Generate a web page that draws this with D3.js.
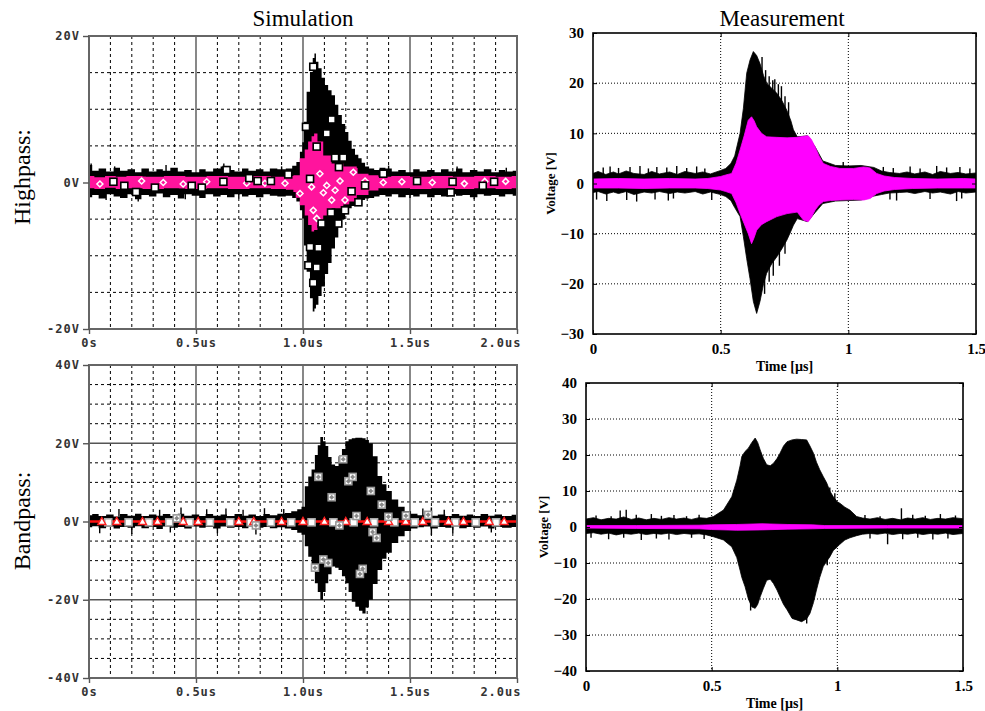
<!DOCTYPE html>
<html>
<head>
<meta charset="utf-8">
<script src="https://cdn.jsdelivr.net/npm/d3@7"></script>
<style>
  body { margin: 0; background: #fff; }
  svg { display: block; }
</style>
</head>
<body>
<div id="chart"></div>
<script>
// ---- data: rows are [time (us), upper envelope (V), lower envelope (V)] ----

// Simulation, highpass
const simHpBlack = [
  [0, 2.4, -2.0], [0.03, 1.6, -1.7], [0.06, 1.9, -2.2], [0.1, 1.5, -1.6], [0.13, 2.0, -1.9],
  [0.16, 1.6, -2.1], [0.2, 1.8, -1.6], [0.23, 1.4, -2.3], [0.26, 1.9, -1.7], [0.3, 1.5, -1.9],
  [0.33, 1.8, -1.5], [0.36, 1.6, -2.0], [0.4, 2.0, -1.7], [0.43, 1.5, -2.2], [0.46, 1.7, -1.6],
  [0.5, 1.4, -1.8], [0.53, 1.8, -2.1], [0.56, 1.5, -1.6], [0.6, 1.9, -1.9], [0.63, 2.2, -1.7],
  [0.66, 1.7, -2.0], [0.7, 1.5, -1.6], [0.73, 1.9, -1.9], [0.76, 1.6, -1.7], [0.8, 1.8, -2.0],
  [0.83, 1.5, -1.6], [0.86, 1.9, -1.8], [0.9, 1.8, -1.9], [0.939, 1.9, -1.8], [0.96, 2.3, -2.1],
  [0.978, 2.8, -2.6], [0.993, 4.2, -3.8], [1.0, 5.5, -4.9], [1.009, 8.3, -8.6], [1.025, 12.4, -12.2],
  [1.04, 15.1, -15.8], [1.051, 17.0, -17.6], [1.056, 17.6, -17.2], [1.065, 16.5, -16.7], [1.079, 15.6, -15.5],
  [1.095, 14.3, -14.2], [1.11, 13.3, -12.5], [1.125, 12.6, -11.0], [1.142, 11.9, -9.0], [1.157, 10.6, -7.5],
  [1.173, 9.2, -6.0], [1.19, 8.0, -5.0], [1.204, 6.9, -4.0], [1.22, 5.7, -3.5], [1.235, 4.6, -3.2],
  [1.251, 3.8, -2.9], [1.266, 3.3, -2.6], [1.282, 2.7, -2.4], [1.298, 2.2, -2.2], [1.32, 1.9, -2.1],
  [1.345, 1.7, -1.9], [1.37, 2.0, -1.7], [1.4, 1.9, -1.9], [1.43, 1.5, -1.6], [1.46, 1.7, -2.0],
  [1.5, 1.4, -1.7], [1.53, 1.8, -1.9], [1.56, 1.5, -1.6], [1.6, 1.7, -2.0], [1.63, 1.4, -1.7],
  [1.66, 1.8, -1.9], [1.7, 1.5, -1.6], [1.73, 1.9, -1.8], [1.76, 1.4, -1.7], [1.8, 1.7, -2.0],
  [1.83, 1.5, -1.6], [1.86, 1.8, -1.8], [1.9, 1.4, -1.7], [1.93, 1.7, -1.9], [1.96, 1.5, -1.6],
  [2.0, 1.6, -1.8]
];
const simHpPink = [
  [0, 0.9, -0.8], [0.05, 0.7, -0.9], [0.1, 0.9, -0.7], [0.15, 0.8, -0.9], [0.2, 0.9, -0.8],
  [0.3, 0.8, -0.9], [0.4, 0.9, -0.8], [0.5, 0.8, -0.9], [0.6, 0.9, -0.8], [0.7, 0.8, -0.9],
  [0.8, 0.9, -0.8], [0.9, 0.8, -0.9], [0.94, 0.9, -1.0], [0.97, 1.0, -1.3], [1.0, 3.3, -3.1],
  [1.016, 4.5, -4.5], [1.032, 5.6, -5.8], [1.048, 6.3, -6.7], [1.056, 6.7, -6.5], [1.079, 5.6, -5.8],
  [1.11, 3.7, -4.5], [1.157, 2.6, -3.5], [1.22, 2.2, -2.6], [1.282, 1.2, -1.7], [1.33, 1.0, -1.1],
  [1.375, 0.8, -0.8], [1.45, 0.9, -0.8], [1.55, 0.8, -0.9], [1.65, 0.9, -0.8], [1.75, 0.8, -0.9],
  [1.85, 0.9, -0.8], [1.95, 0.8, -0.9], [2.0, 0.9, -0.8]
];
const simHpSpikes = [
  [0.01, 2.6], [0.12, 2.2], [0.36, 2.4], [0.63, 2.6], [0.9, 2.2], [1.4, 2.3], [1.72, 2.2], [1.95, 2.0],
  [0.08, -2.4], [0.23, -2.6], [0.45, -2.3], [0.7, -2.2], [1.5, -2.1], [1.8, -2.3]
];
const simHpBlackMarks = [
  [0.114, 0.1], [0.165, -0.45], [0.22, -1.3], [0.308, -0.7], [0.48, -0.45], [0.527, -0.7],
  [0.628, 0.1], [0.643, 1.7], [0.749, 0.6], [0.788, 0.2], [0.85, 0.2], [0.931, 1.1],
  [1.014, 7.6], [1.048, 15.8], [1.064, 4.9], [1.111, 6.7], [1.134, 8.6], [1.15, 3.4],
  [1.188, 3.4], [1.168, 2.1], [1.227, -1.2], [1.259, -2.7], [1.375, 1.2], [1.533, 0.2],
  [1.131, -4.1], [1.196, -3.8], [1.165, -5.6], [1.087, -5.6], [1.033, -8.8], [1.072, -8.9],
  [1.025, -11.3], [1.064, -11.6], [1.048, -13.7], [1.033, 0.5], [1.29, -0.4],
  [1.699, 0.1], [1.69, -1.35], [1.84, -0.45], [1.893, 0.1]
];
const simHpPinkMarks = [
  [0.051, -0.2], [0.246, 0.2], [0.347, 0], [0.44, -0.2], [0.55, 0.1], [0.737, -0.1],
  [0.822, -0.1], [0.916, -0.1], [0.986, -1.5], [1.04, -0.6], [1.079, 1.2], [1.095, -1.4],
  [1.111, -0.4], [1.15, -1.05], [1.173, 0.2], [1.235, 1.4], [1.29, 0.2], [1.375, 0.0],
  [1.462, 0.1], [1.134, -2.4], [1.196, -2.4], [1.048, -3.8], [1.064, -4.9],
  [1.604, 0], [1.754, -0.15], [1.849, 0.15], [1.947, 0.15]
];

// Simulation, bandpass
const simBpBlack = [
  [0, 1.6, -1.5], [0.03, 1.9, -1.2], [0.06, 1.4, -1.7], [0.1, 1.8, -1.3], [0.13, 1.3, -1.8],
  [0.16, 1.9, -1.4], [0.2, 1.5, -1.6], [0.23, 2.0, -1.2], [0.26, 1.4, -1.7], [0.3, 1.8, -1.4],
  [0.33, 1.5, -1.9], [0.36, 1.9, -1.3], [0.4, 1.4, -1.6], [0.43, 2.0, -1.4], [0.46, 1.5, -1.8],
  [0.5, 1.8, -1.3], [0.53, 1.4, -1.6], [0.56, 1.9, -1.4], [0.6, 1.5, -1.8], [0.63, 1.8, -1.3],
  [0.66, 1.4, -1.6], [0.7, 1.9, -1.4], [0.73, 1.5, -1.7], [0.76, 1.8, -1.3], [0.8, 1.4, -1.6],
  [0.83, 1.9, -1.4], [0.86, 1.6, -1.7], [0.9, 2.0, -1.5], [0.93, 2.2, -1.8], [0.96, 2.6, -2.2],
  [0.986, 3.1, -2.9], [1.0, 3.8, -3.4], [1.017, 9.0, -6.3], [1.032, 11.5, -9.0], [1.048, 13.3, -12.0],
  [1.063, 17.0, -15.8], [1.075, 19.5, -18.0], [1.087, 21.6, -20.0], [1.1, 20.5, -18.0], [1.111, 19.3, -15.8],
  [1.125, 16.5, -13.5], [1.142, 14.6, -11.5], [1.158, 14.2, -11.8], [1.174, 16.7, -12.4], [1.19, 18.5, -14.0],
  [1.206, 20.5, -15.8], [1.22, 21.0, -18.0], [1.236, 21.3, -20.5], [1.253, 21.4, -21.8], [1.27, 21.4, -22.8],
  [1.285, 21.3, -23.5], [1.3, 20.8, -22.0], [1.316, 20.0, -20.0], [1.337, 16.7, -16.0], [1.36, 11.6, -12.4],
  [1.38, 9.5, -9.5], [1.4, 7.8, -8.0], [1.43, 5.6, -5.5], [1.46, 3.8, -3.8], [1.49, 2.6, -2.4],
  [1.52, 2.0, -1.8], [1.55, 1.6, -1.5], [1.58, 2.0, -1.3], [1.61, 1.5, -1.8], [1.65, 1.8, -1.4],
  [1.68, 1.4, -1.6], [1.71, 1.9, -1.3], [1.75, 1.5, -1.7], [1.78, 1.8, -1.4], [1.81, 1.4, -1.6],
  [1.85, 1.9, -1.3], [1.88, 1.5, -1.8], [1.91, 1.8, -1.4], [1.95, 1.4, -1.6], [2.0, 1.7, -1.4]
];
const simBpRed = [[0, 0], [2.0, 0]];
const simBpSpikes = [
  [0.14, 3.2], [0.33, 3.0], [0.43, 3.6], [0.55, 3.1], [0.64, 3.3], [0.72, 3.0], [0.82, 3.4],
  [0.91, 3.2], [1.56, 3.3], [1.6, 3.6], [1.66, 3.0],
  [0.05, -3.0], [0.2, -3.2], [0.38, -2.8], [0.6, -3.0], [0.78, -3.3], [1.6, -3.5], [1.7, -3.0], [1.88, -2.8]
];
const simBpGreyMarks = [
  [1.188, 15.9], [1.072, 11.4], [1.212, 10.3], [1.232, 11.4], [1.134, 6.2], [1.317, 7.8],
  [1.368, 4.3], [1.325, -2.7], [1.344, -4.2], [1.095, -9.7], [1.118, -10.6], [1.056, -11.8],
  [1.279, -12.1], [1.266, -13.4], [1.17, -1.0], [1.25, 1.4], [1.399, 1.2], [1.481, 1.5],
  [1.585, 1.7], [0.41, 0.8], [0.78, -1.0]
];
const simBpSquareT = [0.09, 0.185, 0.28, 0.375, 0.47, 0.565, 0.66, 0.755, 0.85, 0.945,
  1.04, 1.142, 1.237, 1.332, 1.427, 1.522, 1.617, 1.712, 1.807, 1.902];
const simBpTriangleT = [0.06, 0.13, 0.25, 0.32, 0.44, 0.51, 0.7, 0.77, 0.9, 1.0,
  1.1, 1.2, 1.3, 1.4, 1.48, 1.56, 1.68, 1.75, 1.87, 1.94];

// Measurement, highpass
const measHpBlack = [
  [0, 2.0, -1.8], [0.02, 2.4, -1.6], [0.05, 1.8, -2.1], [0.08, 2.3, -1.7], [0.1, 1.9, -2.0],
  [0.13, 2.5, -1.6], [0.16, 2.0, -2.2], [0.2, 1.8, -1.7], [0.23, 2.4, -1.9], [0.26, 1.9, -1.6],
  [0.3, 2.3, -2.0], [0.33, 1.8, -1.7], [0.36, 2.4, -1.9], [0.4, 2.0, -1.6], [0.43, 2.3, -2.1],
  [0.46, 1.9, -1.7], [0.5, 2.6, -2.2], [0.52, 3.0, -2.6], [0.54, 4.0, -3.4], [0.555, 5.5, -4.8],
  [0.576, 10.0, -6.6], [0.589, 15.0, -10.6], [0.602, 22.0, -15.0], [0.615, 24.6, -19.0], [0.628, 26.3, -23.5],
  [0.641, 25.5, -25.9], [0.654, 23.9, -23.5], [0.668, 21.5, -20.0], [0.68, 20.0, -17.9], [0.7, 19.0, -16.0],
  [0.72, 18.0, -14.6], [0.74, 16.5, -13.0], [0.759, 14.6, -11.3], [0.775, 12.5, -9.5], [0.785, 10.7, -8.3],
  [0.8, 9.3, -7.0], [0.84, 9.5, -7.6], [0.87, 7.3, -5.8], [0.9, 4.5, -4.0], [0.95, 3.6, -3.5],
  [1.0, 3.5, -3.4], [1.05, 3.6, -3.3], [1.1, 3.2, -2.5], [1.13, 2.5, -2.2], [1.16, 2.2, -1.9],
  [1.2, 2.0, -1.8], [1.23, 2.3, -1.7], [1.26, 1.9, -2.0], [1.3, 2.3, -1.6], [1.33, 1.8, -1.9],
  [1.36, 2.4, -1.7], [1.4, 2.0, -2.1], [1.43, 2.2, -1.6], [1.46, 1.9, -1.9], [1.5, 2.1, -1.7]
];
const measHpPink = [
  [0, 0.9, -0.9], [0.1, 1.0, -0.9], [0.2, 0.9, -1.0], [0.3, 1.0, -0.9], [0.4, 0.9, -0.9],
  [0.45, 1.0, -1.0], [0.5, 1.4, -1.3], [0.52, 1.7, -1.6], [0.543, 2.0, -2.0], [0.56, 4.0, -3.8],
  [0.576, 6.7, -6.0], [0.592, 9.5, -8.0], [0.608, 12.6, -10.0], [0.621, 13.3, -12.0], [0.631, 12.5, -10.8],
  [0.641, 11.3, -9.3], [0.66, 10.0, -8.2], [0.68, 9.3, -7.6], [0.72, 9.2, -6.6], [0.76, 9.1, -6.0],
  [0.8, 9.2, -5.7], [0.824, 9.4, -7.3], [0.843, 9.5, -7.6], [0.855, 8.8, -6.8], [0.87, 7.3, -5.3],
  [0.885, 5.5, -4.3], [0.902, 4.0, -3.6], [0.93, 3.4, -3.4], [0.967, 3.0, -3.3], [1.02, 3.0, -3.2],
  [1.06, 3.3, -3.3], [1.085, 3.1, -3.0], [1.111, 2.0, -2.0], [1.14, 1.5, -1.5], [1.18, 1.2, -1.2],
  [1.25, 1.0, -1.0], [1.35, 0.9, -0.9], [1.45, 1.0, -0.9], [1.5, 0.9, -0.9]
];
const measHpSpikes = [
  [0.04, 3.2], [0.067, 3.4], [0.1, 3.1], [0.145, 3.3], [0.184, 3.5], [0.217, 3.0], [0.25, 3.3],
  [0.289, 3.2], [0.328, 3.5], [0.367, 3.1], [0.406, 3.4], [0.438, 3.0], [0.98, 4.3], [1.137, 3.3],
  [1.176, 3.1], [1.242, 3.4], [1.281, 3.0], [1.346, 3.5], [1.385, 3.2], [1.437, 3.3], [1.476, 3.0],
  [0.014, -3.2], [0.054, -3.5], [0.132, -3.3], [0.171, -3.6], [0.243, -3.2], [0.295, -3.4],
  [0.315, -3.0], [0.465, -3.3], [1.163, -3.2], [1.189, -3.4], [1.32, -3.1], [1.424, -3.5], [1.444, -3.0],
  [0.662, 25.2], [0.676, 22.6], [0.69, 21.4], [0.704, 20.6], [0.712, 20.8], [0.726, 19.8],
  [0.738, 19.4], [0.752, 17.4], [0.766, 16.2],
  [0.672, -22.0], [0.69, -19.6], [0.706, -18.4], [0.73, -16.4], [0.752, -14.0]
];

// Measurement, bandpass
const measBpBlack = [
  [0, 2.2, -1.8], [0.03, 2.6, -1.6], [0.06, 2.0, -2.0], [0.09, 2.4, -1.7], [0.12, 2.2, -2.2],
  [0.15, 2.8, -1.8], [0.18, 2.1, -2.0], [0.21, 2.5, -1.7], [0.24, 2.0, -2.1], [0.27, 2.4, -1.8],
  [0.3, 2.1, -2.0], [0.33, 2.6, -1.7], [0.36, 2.2, -2.1], [0.39, 2.5, -1.8], [0.42, 2.1, -2.0],
  [0.45, 2.6, -1.9], [0.48, 2.4, -2.2], [0.507, 2.9, -2.7], [0.547, 4.7, -3.6], [0.58, 8.4, -5.5],
  [0.6, 13.0, -8.5], [0.613, 17.0, -12.0], [0.62, 19.6, -14.0], [0.633, 21.0, -16.6], [0.646, 21.9, -20.0],
  [0.66, 23.5, -22.2], [0.673, 24.7, -22.6], [0.683, 23.5, -21.5], [0.693, 21.4, -19.4], [0.706, 19.0, -17.0],
  [0.719, 17.3, -14.8], [0.733, 17.0, -14.5], [0.746, 17.7, -15.7], [0.76, 19.0, -17.5], [0.772, 20.5, -19.4],
  [0.786, 22.5, -21.5], [0.8, 23.7, -23.0], [0.82, 24.2, -25.4], [0.838, 24.4, -25.8], [0.858, 24.3, -26.3],
  [0.878, 24.2, -25.5], [0.891, 22.5, -24.0], [0.905, 20.5, -21.0], [0.917, 18.0, -17.5], [0.93, 15.9, -14.0],
  [0.944, 14.0, -11.0], [0.958, 12.2, -9.5], [0.97, 10.0, -8.3], [0.984, 8.4, -6.5], [1.0, 7.0, -5.5],
  [1.01, 6.6, -4.8], [1.03, 5.5, -3.6], [1.05, 4.7, -3.0], [1.077, 2.9, -2.4], [1.1, 2.5, -2.0],
  [1.13, 2.2, -1.8], [1.16, 2.6, -2.0], [1.19, 2.1, -1.7], [1.22, 2.4, -2.1], [1.25, 2.0, -1.8],
  [1.28, 2.5, -2.0], [1.31, 2.2, -1.7], [1.34, 2.6, -2.1], [1.37, 2.1, -1.8], [1.4, 2.4, -2.0],
  [1.43, 2.2, -1.7], [1.46, 2.6, -2.1], [1.5, 2.3, -1.8]
];
const measBpPink = [
  [0, 0.4, -0.3], [0.2, 0.4, -0.4], [0.45, 0.5, -0.5], [0.5, 0.6, -0.7], [0.6, 0.7, -0.9],
  [0.7, 0.9, -0.8], [0.8, 0.7, -0.6], [0.9, 0.6, -0.5], [0.95, 0.4, -0.4], [1.2, 0.4, -0.3],
  [1.5, 0.4, -0.3]
];
const measBpSpikes = [
  [0.04, 3.2], [0.1, 3.0], [0.136, 4.6], [0.16, 4.8], [0.2, 3.4], [0.26, 3.6], [0.3, 3.1],
  [0.35, 3.3], [0.4, 3.0], [0.45, 3.4], [1.11, 3.3], [1.17, 3.0], [1.255, 5.2], [1.3, 3.4],
  [1.35, 3.1], [1.41, 3.6], [1.47, 3.2],
  [0.02, -3.0], [0.09, -3.4], [0.15, -3.0], [0.22, -3.6], [0.28, -3.2], [0.33, -3.5],
  [0.42, -3.0], [0.47, -3.3], [1.13, -3.2], [1.2, -4.8], [1.26, -3.4], [1.32, -3.0],
  [1.38, -3.5], [1.44, -3.2],
  [0.97, 11.0], [0.99, 9.4], [0.96, -10.6], [0.655, -23.2], [0.878, -26.8]
];

// tick labels
const simTimeTicks = [0, 0.5, 1.0, 1.5, 2.0];
const simHpVoltTicks = [-20, 0, 20];
const simBpVoltTicks = [-40, -20, 0, 20, 40];
const measTimeTicks = [0, 0.5, 1, 1.5];
const measHpVoltTicks = [-30, -20, -10, 0, 10, 20, 30];
const measBpVoltTicks = [-40, -30, -20, -10, 0, 10, 20, 30, 40];

const simPink = '#ff149d';
const measPink = '#ff00ff';

const svg = d3.select('#chart').append('svg')
  .attr('width', 985)
  .attr('height', 711);

function clip(id, p) {
  svg.append('clipPath').attr('id', id).append('rect')
    .attr('x', p.left).attr('y', p.top)
    .attr('width', p.right - p.left).attr('height', p.bottom - p.top);
  return `url(#${id})`;
}

function band(x, y, curve) {
  return d3.area()
    .x(d => x(d[0]))
    .y0(d => y(d[2]))
    .y1(d => y(d[1]))
    .curve(curve);
}

function spikes(g, data, x, y) {
  g.selectAll(null).data(data).join('line')
    .attr('x1', d => x(d[0])).attr('x2', d => x(d[0]))
    .attr('y1', d => y(d[1] * 0.4)).attr('y2', d => y(d[1]))
    .attr('stroke', '#000').attr('stroke-width', 1.4);
}

// ---- PSpice style panel ----
function drawSim(p) {
  const x = d3.scaleLinear().domain([0, 2]).range([p.left, p.right]);
  const y = d3.scaleLinear().domain([-p.vmax, p.vmax]).range([p.bottom, p.top]);
  const g = svg.append('g');

  // grid
  const minorT = d3.range(1, 20).filter(i => i % 5 !== 0).map(i => i / 10);
  const minorV = d3.range(-p.vmax + 5, p.vmax, 5).filter(v => !p.majorV.includes(v));
  g.selectAll(null).data(minorT).join('line')
    .attr('x1', d => x(d)).attr('x2', d => x(d))
    .attr('y1', p.top).attr('y2', p.bottom)
    .attr('stroke', '#000').attr('stroke-dasharray', '3,3');
  g.selectAll(null).data(minorV).join('line')
    .attr('x1', p.left).attr('x2', p.right)
    .attr('y1', d => y(d)).attr('y2', d => y(d))
    .attr('stroke', '#000').attr('stroke-dasharray', '3,3');
  g.selectAll(null).data([0.5, 1.0, 1.5]).join('line')
    .attr('x1', d => x(d)).attr('x2', d => x(d))
    .attr('y1', p.top).attr('y2', p.bottom)
    .attr('stroke', '#555').attr('stroke-width', 1.4);
  g.selectAll(null).data(p.majorV).join('line')
    .attr('x1', p.left).attr('x2', p.right)
    .attr('y1', d => y(d)).attr('y2', d => y(d))
    .attr('stroke', '#555').attr('stroke-width', 1.4);

  // traces
  const tr = g.append('g').attr('clip-path', clip('c' + p.id, p));
  tr.append('path').datum(p.black)
    .attr('d', band(x, y, d3.curveStep)).attr('fill', '#000');
  spikes(tr, p.spikes, x, y);
  if (p.pink) {
    tr.append('path').datum(p.pink)
      .attr('d', band(x, y, d3.curveStep)).attr('fill', simPink);
  }
  if (p.red) {
    tr.append('path').datum(p.red)
      .attr('d', d3.line().x(d => x(d[0])).y(d => y(d[1])))
      .attr('stroke', '#ff1010').attr('stroke-width', 2.5).attr('fill', 'none');
  }
  p.marks(tr, x, y);

  // frame
  g.append('rect')
    .attr('x', p.left).attr('y', p.top)
    .attr('width', p.right - p.left).attr('height', p.bottom - p.top)
    .attr('fill', 'none').attr('stroke', '#666').attr('stroke-width', 2);

  // axes
  const yAxis = g.append('g')
    .attr('transform', `translate(${p.left},0)`)
    .call(d3.axisLeft(y).tickValues(p.vTicks).tickSize(6).tickPadding(3)
      .tickFormat(d => d + 'V'));
  const xAxis = g.append('g')
    .attr('transform', `translate(0,${p.bottom})`)
    .call(d3.axisBottom(x).tickValues(simTimeTicks).tickSize(5).tickPadding(4)
      .tickFormat(d => (d === 0 ? '0s' : d.toFixed(1) + 'us')));
  [yAxis, xAxis].forEach(a => {
    a.select('.domain').remove();
    a.selectAll('line').attr('stroke', '#555').attr('stroke-width', 1.4);
    a.selectAll('text')
      .attr('fill', '#333')
      .style('font-family', '"DejaVu Sans Mono", monospace')
      .style('font-weight', 'bold')
      .style('font-size', '12px')
      .style('letter-spacing', '1px');
  });
  xAxis.selectAll('text').filter(d => d === 2.0).attr('text-anchor', 'end').attr('dx', 4);
}

function squareMarks(g, data, x, y, fill, stroke) {
  g.selectAll(null).data(data).join('rect')
    .attr('x', d => x(d[0]) - 3.5).attr('y', d => y(d[1]) - 3.5)
    .attr('width', 7).attr('height', 7)
    .attr('fill', fill).attr('stroke', stroke).attr('stroke-width', 1.6);
}

function pinkMarks(g, data, x, y) {
  squareMarks(g, data, x, y, simPink, simPink);
  g.selectAll(null).data(data).join('path')
    .attr('d', d => {
      const cx = x(d[0]);
      const cy = y(d[1]);
      return `M${cx},${cy - 3}L${cx + 3},${cy}L${cx},${cy + 3}L${cx - 3},${cy}Z`;
    })
    .attr('fill', simPink).attr('stroke', '#fff').attr('stroke-width', 1.5);
}

function greyMarks(g, data, x, y) {
  squareMarks(g, data, x, y, '#fff', '#999');
  g.selectAll(null).data(data).join('path')
    .attr('d', d => {
      const cx = x(d[0]);
      const cy = y(d[1]);
      return `M${cx},${cy - 2.5}L${cx + 2.5},${cy}L${cx},${cy + 2.5}L${cx - 2.5},${cy}Z`;
    })
    .attr('fill', '#888');
}

drawSim({
  id: 'simhp', left: 89, right: 517, top: 36, bottom: 329, vmax: 20,
  majorV: [0], vTicks: simHpVoltTicks,
  black: simHpBlack, pink: simHpPink, spikes: simHpSpikes,
  marks: (g, x, y) => {
    pinkMarks(g, simHpPinkMarks, x, y);
    squareMarks(g, simHpBlackMarks, x, y, '#fff', '#000');
  }
});

drawSim({
  id: 'simbp', left: 89, right: 517, top: 365, bottom: 678, vmax: 40,
  majorV: [-20, 0, 20], vTicks: simBpVoltTicks,
  black: simBpBlack, red: simBpRed, spikes: simBpSpikes,
  marks: (g, x, y) => {
    squareMarks(g, simBpSquareT.map(t => [t, -0.2]), x, y, '#fff', '#aaa');
    g.selectAll(null).data(simBpTriangleT).join('path')
      .attr('d', t => {
        const cx = x(t);
        const cy = y(0);
        return `M${cx},${cy - 4}L${cx + 4},${cy + 3}L${cx - 4},${cy + 3}Z`;
      })
      .attr('fill', '#fff').attr('stroke', '#ff2020').attr('stroke-width', 1.4);
    greyMarks(g, simBpGreyMarks, x, y);
  }
});

// ---- MATLAB style panel ----
function drawMeas(p) {
  const x = d3.scaleLinear().domain([0, 1.5]).range([p.left, p.right]);
  const y = d3.scaleLinear().domain([-p.vmax, p.vmax]).range([p.bottom, p.top]);
  const g = svg.append('g');
  const serif = '"Liberation Serif", "Times New Roman", serif';

  g.selectAll(null).data(measTimeTicks.slice(1, -1)).join('line')
    .attr('x1', d => x(d)).attr('x2', d => x(d))
    .attr('y1', p.top).attr('y2', p.bottom)
    .attr('stroke', '#000').attr('stroke-dasharray', '1,2');
  g.selectAll(null).data(p.vTicks.slice(1, -1)).join('line')
    .attr('x1', p.left).attr('x2', p.right)
    .attr('y1', d => y(d)).attr('y2', d => y(d))
    .attr('stroke', '#000').attr('stroke-dasharray', '1,2');

  const tr = g.append('g').attr('clip-path', clip('c' + p.id, p));
  tr.append('path').datum(p.black)
    .attr('d', band(x, y, d3.curveLinear)).attr('fill', '#000')
    .attr('stroke', '#000').attr('stroke-width', 0.8);
  spikes(tr, p.spikes, x, y);
  tr.append('path').datum(p.pink)
    .attr('d', band(x, y, d3.curveLinear)).attr('fill', measPink)
    .attr('stroke', measPink).attr('stroke-width', 0.8);

  g.append('rect')
    .attr('x', p.left).attr('y', p.top)
    .attr('width', p.right - p.left).attr('height', p.bottom - p.top)
    .attr('fill', 'none').attr('stroke', '#000').attr('stroke-width', 1.6);

  const axes = [
    g.append('g').attr('transform', `translate(${p.left},0)`)
      .call(d3.axisLeft(y).tickValues(p.vTicks).tickSize(-4).tickPadding(9)),
    g.append('g').attr('transform', `translate(0,${p.bottom})`)
      .call(d3.axisBottom(x).tickValues(measTimeTicks).tickSize(-4).tickPadding(9)
        .tickFormat(d => String(d))),
    g.append('g').attr('transform', `translate(${p.right},0)`)
      .call(d3.axisRight(y).tickValues(p.vTicks).tickSize(-4).tickFormat('')),
    g.append('g').attr('transform', `translate(0,${p.top})`)
      .call(d3.axisTop(x).tickValues(measTimeTicks).tickSize(-4).tickFormat(''))
  ];
  axes.forEach(a => {
    a.select('.domain').remove();
    a.selectAll('line').attr('stroke', '#000');
    a.selectAll('text')
      .attr('fill', '#000')
      .style('font-family', serif)
      .style('font-weight', 'bold')
      .style('font-size', '15px');
  });

  g.append('text')
    .attr('transform', `translate(${p.left - 38},${(p.top + p.bottom) / 2}) rotate(-90)`)
    .attr('text-anchor', 'middle')
    .style('font-family', serif).style('font-weight', 'bold').style('font-size', '13px')
    .text('Voltage [V]');
  g.append('text')
    .attr('x', (p.left + p.right) / 2).attr('y', p.bottom + 37)
    .attr('text-anchor', 'middle')
    .style('font-family', serif).style('font-weight', 'bold').style('font-size', '14px')
    .text('Time [µs]');
}

drawMeas({
  id: 'meashp', left: 593, right: 976, top: 33, bottom: 334, vmax: 30,
  vTicks: measHpVoltTicks, black: measHpBlack, pink: measHpPink, spikes: measHpSpikes
});

drawMeas({
  id: 'measbp', left: 586, right: 963, top: 383, bottom: 671, vmax: 40,
  vTicks: measBpVoltTicks, black: measBpBlack, pink: measBpPink, spikes: measBpSpikes
});

// ---- titles and row labels ----
const serifRegular = '"Liberation Serif", "Times New Roman", serif';
svg.append('text').attr('x', 303).attr('y', 26).attr('text-anchor', 'middle')
  .style('font-family', serifRegular).style('font-size', '23px').text('Simulation');
svg.append('text').attr('x', 782).attr('y', 26).attr('text-anchor', 'middle')
  .style('font-family', serifRegular).style('font-size', '23px').text('Measurement');
svg.append('text').attr('transform', 'translate(30,177) rotate(-90)').attr('text-anchor', 'middle')
  .style('font-family', serifRegular).style('font-size', '24px').text('Highpass:');
svg.append('text').attr('transform', 'translate(30,521) rotate(-90)').attr('text-anchor', 'middle')
  .style('font-family', serifRegular).style('font-size', '24px').text('Bandpass:');
</script>
</body>
</html>
